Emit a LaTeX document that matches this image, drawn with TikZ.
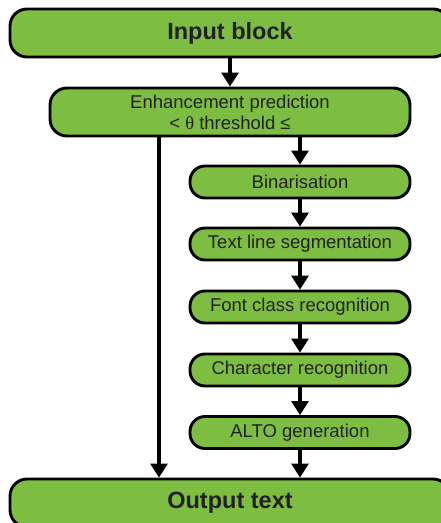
\documentclass[tikz,border=0pt]{standalone}
\usepackage{fontspec}
\setmainfont{Liberation Sans}
\newfontfamily\thetafont{Liberation Serif}
\usetikzlibrary{arrows.meta}
\definecolor{boxgreen}{RGB}{125,190,66}
\definecolor{txt}{RGB}{35,31,32}
\begin{document}
\begin{tikzpicture}[x=1pt,y=-1pt,
  bigbox/.style={draw=black,line width=2.9pt,fill=boxgreen,rounded corners=17pt,minimum width=440pt,minimum height=48pt,inner sep=0pt,text=txt,font=\fontsize{23.5}{26}\selectfont\bfseries},
  midbox/.style={draw=black,line width=2.9pt,fill=boxgreen,rounded corners=17pt,minimum width=360pt,minimum height=48pt,inner sep=0pt,text=txt,align=center,font=\fontsize{18.5}{22}\selectfont},
  smallbox/.style={draw=black,line width=2.9pt,fill=boxgreen,rounded corners=15pt,minimum width=220pt,minimum height=32pt,inner sep=0pt,text=txt,font=\fontsize{18.5}{22}\selectfont},
  arr/.style={line width=3.1pt,-{Triangle[width=17pt,length=14pt]}}]
\useasboundingbox (0,0) rectangle (441,523);
\node[bigbox] (in) at (230,33) {Input block};
\node[midbox] (enh) at (230,112) {Enhancement prediction\\[-1pt] < {\thetafont θ} threshold ≤};
\node[smallbox] (bin) at (300,182) {Binarisation};
\node[smallbox] (seg) at (300,244) {Text line segmentation};
\node[smallbox] (font) at (300,307) {Font class recognition};
\node[smallbox] (chr) at (300,370) {Character recognition};
\node[smallbox] (alto) at (300,432.5) {ALTO generation};
\node[bigbox] (out) at (230,503) {Output text};
\coordinate (L) at (159,0);
\coordinate (R) at (300,0);
\draw[arr] (in) -- (enh);
\draw[arr] (enh.south -| R) -- (bin);
\draw[arr] (bin) -- (seg);
\draw[arr] (seg) -- (font);
\draw[arr] (font) -- (chr);
\draw[arr] (chr) -- (alto);
\draw[arr] (alto) -- (out.north -| R);
\draw[arr] (enh.south -| L) -- (out.north -| L);
\end{tikzpicture}
\end{document}
